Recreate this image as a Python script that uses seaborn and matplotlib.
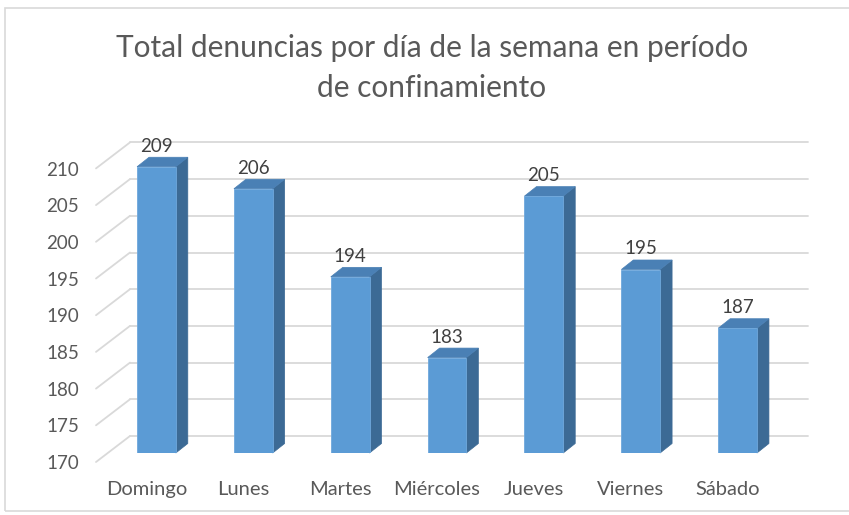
import numpy as np
import pandas as pd
import matplotlib
matplotlib.use("Agg")
import matplotlib.pyplot as plt
import seaborn as sns
from matplotlib.patches import Polygon, Rectangle
from matplotlib.lines import Line2D
from matplotlib.transforms import IdentityTransform, offset_copy, blended_transform_factory

# ---- data ----
days = ["Domingo", "Lunes", "Martes", "Miércoles", "Jueves", "Viernes", "Sábado"]
values = [209, 206, 194, 183, 205, 195, 187]
yticks = [170, 175, 180, 185, 190, 195, 200, 205, 210]
title_lines = ["Total denuncias por día de la semana en período", "de confinamiento"]

sns.set_style("white")
plt.rcParams["font.family"] = ["Lato", "DejaVu Sans"]

W, H = 849, 515
fig = plt.figure(figsize=(W / 100, H / 100), dpi=100)
fig.patch.set_facecolor("white")

# bar plane axes (front faces of the columns)
bot_px, top_px = 453, 159.4
ax = fig.add_axes([108 / W, (H - bot_px) / H, (786 - 108) / W, (bot_px - top_px) / H])
ax.patch.set_alpha(0)

front_c = "#5B9BD5"
side_c = "#3C6A95"
top_c = "#4A80B5"
grid_c = "#D9D9D9"
text_c = "#595959"
val_c = "#404040"

df = pd.DataFrame({"day": days, "value": values})
sns.barplot(data=df, x="day", y="value", color=front_c, saturation=1, width=0.4,
            ax=ax, zorder=3, edgecolor="#6FA8DC", linewidth=0.6)
ax.set_xlim(-0.5, len(days) - 0.5)
ax.set_ylim(yticks[0], yticks[-1])
ax.axis("off")

ident = IdentityTransform()
# 3D offsets (pixels, display coords: +y is up)
back_dx, back_dy = 22, 17
front_dx, front_dy = -12, -9
depth_dx, depth_dy = 12, 9.5

xl = ax.transAxes.transform((0, 0))[0]
xr = ax.transAxes.transform((1, 0))[0]
for t in yticks:
    yd = ax.transData.transform((0, t))[1]
    ax.add_line(Line2D([xl + back_dx, xr + back_dx], [yd + back_dy, yd + back_dy],
                       transform=ident, color=grid_c, lw=1.3, clip_on=False, zorder=1))
    ax.add_line(Line2D([xl + front_dx, xl + back_dx], [yd + front_dy, yd + back_dy],
                       transform=ident, color=grid_c, lw=1.3, clip_on=False, zorder=1))

bars = list(ax.patches)
base = yticks[0]
for p in bars:
    x0 = p.get_x()
    x1 = x0 + p.get_width()
    v = p.get_height()
    X0, Yb = ax.transData.transform((x0, base))
    X1, Yt = ax.transData.transform((x1, v))
    side = Polygon([(X1, Yb), (X1, Yt), (X1 + depth_dx, Yt + depth_dy), (X1 + depth_dx, Yb + depth_dy)],
                   closed=True, transform=ident, facecolor=side_c, edgecolor=side_c, lw=0.5,
                   clip_on=False, zorder=2.5)
    topf = Polygon([(X0, Yt), (X1, Yt), (X1 + depth_dx, Yt + depth_dy), (X0 + depth_dx, Yt + depth_dy)],
                   closed=True, transform=ident, facecolor=top_c, edgecolor=top_c, lw=0.5,
                   clip_on=False, zorder=2.5)
    ax.add_patch(side)
    ax.add_patch(topf)

# value labels
val_tr = offset_copy(ax.transData, fig, x=0, y=15, units="dots")
for i, v in enumerate(values):
    ax.text(i, v, str(v), transform=val_tr, ha="center", va="baseline",
            fontsize=13.5, color=val_c, clip_on=False, zorder=5)

# y tick labels (front edge)
ytr = offset_copy(blended_transform_factory(ax.transAxes, ax.transData), fig,
                  x=-29, y=-10.6, units="dots")
for t in yticks:
    ax.text(0, t, str(t), transform=ytr, ha="right", va="center",
            fontsize=13.5, color=text_c, clip_on=False)

# category labels
xtr = offset_copy(ax.transData, fig, x=-10, y=-42, units="dots")
for i, d in enumerate(days):
    ax.text(i, base, d, transform=xtr, ha="center", va="baseline",
            fontsize=14.5, color=text_c, clip_on=False)

# title
fig.text(432 / W, 1 - 57 / H, title_lines[0], ha="center", va="baseline",
         fontsize=21.5, color=text_c)
fig.text(432 / W, 1 - 97 / H, title_lines[1], ha="center", va="baseline",
         fontsize=21.5, color=text_c)

# chart frame
fig.add_artist(Rectangle((5 / W, 1 - 511 / H), (849 - 5 + 10) / W, (511 - 8) / H,
                         transform=fig.transFigure, fill=False, edgecolor="#D9D9D9", lw=1.2))

fig.savefig("out.png", dpi=100)
